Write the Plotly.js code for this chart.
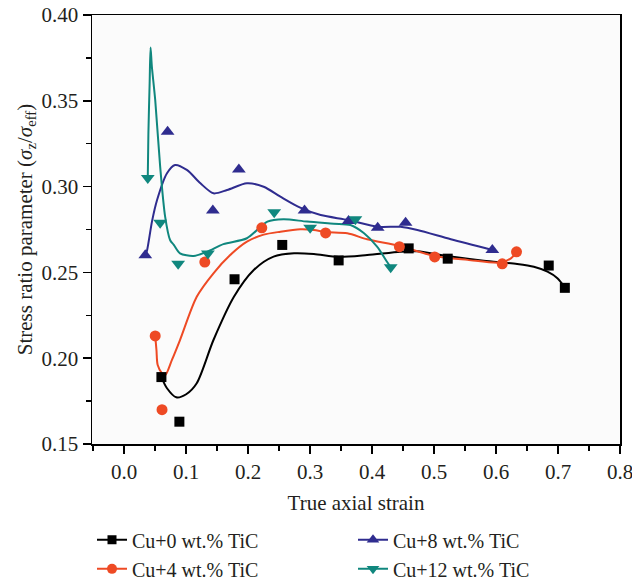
<!DOCTYPE html>
<html><head><meta charset="utf-8">
<script src="https://cdn.plot.ly/plotly-3.0.1.min.js"></script>
<style>html,body{margin:0;padding:0;background:#fff}</style>
</head><body>
<div id="chart" style="width:632px;height:581px"></div>
<script>
// Measured points
var strain0 = [0.060,0.089,0.178,0.255,0.346,0.459,0.522,0.685,0.711];
var ratio0  = [0.189,0.163,0.246,0.266,0.257,0.264,0.258,0.254,0.241];
var strain4 = [0.050,0.061,0.130,0.222,0.325,0.444,0.501,0.610,0.633];
var ratio4  = [0.213,0.170,0.256,0.276,0.273,0.265,0.259,0.255,0.262];
var strain8 = [0.034,0.070,0.143,0.185,0.291,0.362,0.409,0.454,0.594];
var ratio8  = [0.260,0.332,0.286,0.310,0.286,0.280,0.276,0.279,0.263];
var strain12 = [0.038,0.058,0.087,0.135,0.242,0.300,0.373,0.430];
var ratio12  = [0.305,0.279,0.255,0.261,0.285,0.276,0.281,0.253];

// Fitted curves
var fitX0 = [0.060,0.069,0.084,0.100,0.117,0.144,0.177,0.209,0.241,0.274,0.306,0.346,0.392,0.446,0.473,0.527,0.580,0.634,0.661,0.683,0.699,0.710];
var fitY0 = [0.189,0.1825,0.1772,0.179,0.1854,0.2106,0.2358,0.2514,0.2592,0.2611,0.2607,0.2590,0.2601,0.2621,0.2623,0.2592,0.2568,0.2549,0.2533,0.2504,0.2466,0.2417];
var fitX4 = [0.050,0.052,0.054,0.061,0.066,0.077,0.090,0.117,0.144,0.171,0.198,0.225,0.252,0.284,0.306,0.325,0.360,0.392,0.444,0.500,0.554,0.607,0.624,0.633];
var fitY4 = [0.213,0.2048,0.196,0.1912,0.1900,0.199,0.2106,0.2358,0.2495,0.2601,0.2679,0.2720,0.2737,0.2751,0.2747,0.2735,0.2728,0.2693,0.2654,0.2596,0.2573,0.2557,0.2582,0.2617];
var fitX8 = [0.034,0.037,0.045,0.053,0.069,0.082,0.101,0.123,0.144,0.166,0.198,0.225,0.252,0.284,0.317,0.362,0.409,0.446,0.473,0.527,0.594];
var fitY8 = [0.2596,0.2631,0.2800,0.2922,0.3078,0.3126,0.3097,0.3019,0.2961,0.2980,0.3019,0.2999,0.2941,0.2877,0.2834,0.2805,0.2766,0.2766,0.2747,0.2693,0.2631];
var fitX12 = [0.038,0.039,0.041,0.0425,0.0446,0.050,0.058,0.066,0.074,0.080,0.090,0.112,0.134,0.160,0.198,0.231,0.257,0.295,0.338,0.365,0.387,0.408,0.424,0.430];
var fitY12 = [0.305,0.331,0.360,0.381,0.370,0.3505,0.3116,0.2825,0.2689,0.2660,0.2611,0.2596,0.2621,0.2665,0.2699,0.2796,0.2810,0.2796,0.2784,0.2776,0.2728,0.2650,0.2562,0.2530];

var names = ['Cu+0 wt.% TiC','Cu+4 wt.% TiC','Cu+8 wt.% TiC','Cu+12 wt.% TiC'];
var colors = ['#000000','#ee4a24','#2f2c8f','#10877e'];
var symbols = ['square','circle','triangle-up','triangle-down'];
var msizes = [10,11,12,12];
var px = [strain0,strain4,strain8,strain12], py=[ratio0,ratio4,ratio8,ratio12];
var fx = [fitX0,fitX4,fitX8,fitX12], fy=[fitY0,fitY4,fitY8,fitY12];

var traces = [];
for (var i=0;i<4;i++){
  traces.push({x:fx[i],y:fy[i],mode:'lines',type:'scatter',showlegend:false,hoverinfo:'skip',
    line:{color:colors[i],width:2,shape:'spline',smoothing:0.8}});
}
for (var i=0;i<4;i++){
  traces.push({x:px[i],y:py[i],mode:'markers',type:'scatter',showlegend:false,
    marker:{color:colors[i],symbol:symbols[i],size:msizes[i]}});
}
var legendOrder=[0,2,1,3];
legendOrder.forEach(function(i){
  traces.push({x:[null],y:[null],mode:'lines+markers',type:'scatter',name:names[i],
    line:{color:colors[i],width:2},marker:{color:colors[i],symbol:symbols[i],size:msizes[i]-1}});
});

var font = {family:'"Liberation Serif", "DejaVu Serif", serif', size:21, color:'#231f20'};
var lfont = {family:'"Liberation Serif", "DejaVu Serif", serif', size:20, color:'#231f20'};
var layout = {
  width:632, height:581,
  margin:{l:92,r:12,t:15,b:137,autoexpand:false},
  paper_bgcolor:'#ffffff', plot_bgcolor:'#fbfbfb',
  font:font,
  xaxis:{range:[-0.052,0.8], tickvals:[0,0.1,0.2,0.3,0.4,0.5,0.6,0.7,0.8], tickformat:'.1f',
    ticks:'outside', ticklen:8, tickwidth:1.5, tickcolor:'#000', ticklabeloverflow:'allow',
    minor:{dtick:0.05, tick0:0, ticks:'outside', ticklen:5, tickwidth:1.5, tickcolor:'#000'},
    showline:true, linecolor:'#000', linewidth:1.5, mirror:true, showgrid:false, zeroline:false,
    automargin:false,
    title:{text:'True axial strain', font:font, standoff:12}},
  yaxis:{range:[0.15,0.40], dtick:0.05, tick0:0.15, tickformat:'.2f',
    ticks:'outside', ticklen:8, tickwidth:1.5, tickcolor:'#000', ticklabeloverflow:'allow',
    minor:{dtick:0.025, tick0:0.15, ticks:'outside', ticklen:5, tickwidth:1.5, tickcolor:'#000'},
    showline:true, linecolor:'#000', linewidth:1.5, mirror:true, showgrid:false, zeroline:false,
    automargin:false,
    title:{text:'Stress ratio parameter (<i>σ</i><sub>z</sub>/<i>σ</i><sub>eff</sub>)\u00A0\u00A0\u00A0', font:font, standoff:3}},
  legend:{orientation:'h', x:0, xanchor:'left', y:-0.178, yanchor:'top',
    entrywidth:216, entrywidthmode:'pixels', font:lfont, bgcolor:'rgba(0,0,0,0)', tracegroupgap:0},
  showlegend:true
};
Plotly.newPlot('chart', traces, layout, {displayModeBar:false, staticPlot:true});
</script>
</body></html>
